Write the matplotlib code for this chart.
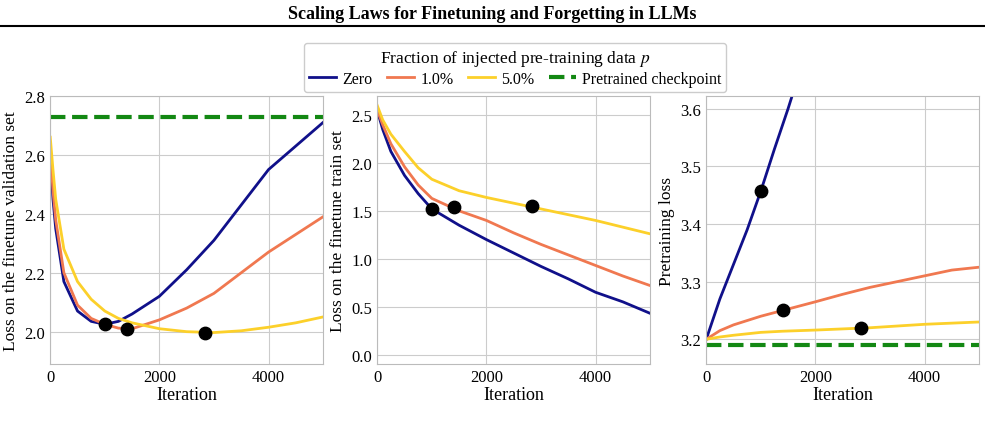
import matplotlib
matplotlib.use("Agg")
import matplotlib.pyplot as plt
from matplotlib.lines import Line2D

plt.rcParams['font.family'] = ['Liberation Serif', 'DejaVu Serif']
plt.rcParams['mathtext.fontset'] = 'stix'

# ---- data ----
it_val = [0, 50, 100, 250, 500, 750, 1000, 1250, 1500, 2000, 2500, 3000, 3500, 4000, 4500, 5000]
val_zero = [2.60, 2.45, 2.35, 2.17, 2.07, 2.035, 2.025, 2.035, 2.06, 2.12, 2.21, 2.31, 2.43, 2.55, 2.63, 2.71]
val_1 = [2.62, 2.48, 2.38, 2.20, 2.09, 2.045, 2.025, 2.012, 2.01, 2.04, 2.08, 2.13, 2.20, 2.27, 2.33, 2.39]
val_5 = [2.66, 2.55, 2.45, 2.28, 2.17, 2.11, 2.07, 2.045, 2.03, 2.01, 2.0, 1.997, 2.003, 2.015, 2.03, 2.05]
val_pre = 2.73
val_marks_x = [1000, 1400, 2840]
val_marks_y = [2.025, 2.01, 1.995]

it_tr = [0, 100, 250, 500, 750, 1000, 1500, 2000, 2500, 3000, 3500, 4000, 4500, 5000]
tr_zero = [2.55, 2.35, 2.12, 1.87, 1.68, 1.52, 1.35, 1.20, 1.06, 0.92, 0.79, 0.65, 0.55, 0.43]
tr_1 = [2.55, 2.40, 2.20, 1.96, 1.77, 1.63, 1.50, 1.40, 1.27, 1.15, 1.04, 0.93, 0.82, 0.72]
tr_5 = [2.60, 2.45, 2.30, 2.12, 1.95, 1.83, 1.71, 1.64, 1.58, 1.52, 1.46, 1.40, 1.33, 1.26]
tr_marks_x = [1000, 1400, 2840]
tr_marks_y = [1.52, 1.54, 1.55]

it_pt = [0, 250, 500, 750, 1000, 1250, 1500, 1700]
pt_zero = [3.20, 3.27, 3.33, 3.39, 3.457, 3.53, 3.60, 3.66]
it_pt2 = [0, 250, 500, 1000, 1400, 2000, 2500, 3000, 3500, 4000, 4500, 5000]
pt_1 = [3.20, 3.215, 3.225, 3.24, 3.25, 3.265, 3.278, 3.29, 3.30, 3.31, 3.32, 3.325]
pt_5 = [3.20, 3.204, 3.207, 3.212, 3.214, 3.216, 3.218, 3.22, 3.223, 3.226, 3.228, 3.23]
pt_pre = 3.19
pt_marks_x = [1000, 1400, 2840]
pt_marks_y = [3.457, 3.25, 3.22]

C0, C1, C5, CG = '#10108a', '#f07850', '#fcd02a', '#138813'

fig = plt.figure(figsize=(9.85, 4.27), dpi=100)
fig.text(0.5, 0.965, 'Scaling Laws for Finetuning and Forgetting in LLMs',
         ha='center', va='center', fontsize=13, fontweight='bold')
fig.add_artist(Line2D([0.0, 1.0], [0.937, 0.937], color='black', lw=1.5))

bottom, height = 0.145, 0.628
axes = [fig.add_axes([l, bottom, 0.277, height]) for l in (0.051, 0.383, 0.717)]

def style(ax):
    ax.grid(True, color='#cccccc', lw=0.8)
    ax.set_axisbelow(True)
    for s in ax.spines.values():
        s.set_color('#bbbbbb')
    ax.tick_params(length=0, labelsize=12)
    ax.set_xlim(0, 5000)
    ax.set_xticks([0, 2000, 4000])
    ax.set_xlabel('Iteration', fontsize=13, labelpad=1)

ax = axes[0]
ax.plot(it_val, val_zero, color=C0, lw=2)
ax.plot(it_val, val_1, color=C1, lw=2)
ax.plot(it_val, val_5, color=C5, lw=2)
ax.axhline(val_pre, color=CG, lw=3, ls='--')
ax.scatter(val_marks_x, val_marks_y, s=80, color='black', zorder=5)
ax.set_ylim(1.89, 2.8)
ax.set_yticks([2.0, 2.2, 2.4, 2.6, 2.8])
ax.set_ylabel('Loss on the finetune validation set', fontsize=12.5)
style(ax)

ax = axes[1]
ax.plot(it_tr, tr_zero, color=C0, lw=2)
ax.plot(it_tr, tr_1, color=C1, lw=2)
ax.plot(it_tr, tr_5, color=C5, lw=2)
ax.scatter(tr_marks_x, tr_marks_y, s=80, color='black', zorder=5)
ax.set_ylim(-0.1, 2.7)
ax.set_yticks([0.0, 0.5, 1.0, 1.5, 2.0, 2.5])
ax.set_ylabel('Loss on the finetune train set', fontsize=12.5)
style(ax)

ax = axes[2]
ax.plot(it_pt, pt_zero, color=C0, lw=2)
ax.plot(it_pt2, pt_1, color=C1, lw=2)
ax.plot(it_pt2, pt_5, color=C5, lw=2)
ax.axhline(pt_pre, color=CG, lw=3, ls='--')
ax.scatter(pt_marks_x, pt_marks_y, s=80, color='black', zorder=5)
ax.set_ylim(3.157, 3.622)
ax.set_yticks([3.2, 3.3, 3.4, 3.5, 3.6])
ax.set_ylabel('Pretraining loss', fontsize=12.5)
style(ax)

handles = [Line2D([], [], color=C0, lw=2), Line2D([], [], color=C1, lw=2),
           Line2D([], [], color=C5, lw=2), Line2D([], [], color=CG, lw=3, ls='--')]
leg = fig.legend(handles, ['Zero', '1.0%', '5.0%', 'Pretrained checkpoint'],
                 loc='center', bbox_to_anchor=(0.523, 0.84), ncol=4, fontsize=11.5,
                 title='Fraction of injected pre-training data $p$', title_fontsize=12.5,
                 handlelength=1.7, columnspacing=0.9, handletextpad=0.4,
                 borderpad=0.3, labelspacing=0.2, framealpha=1, edgecolor='#cccccc')
fig.savefig('out.png', dpi=100)
